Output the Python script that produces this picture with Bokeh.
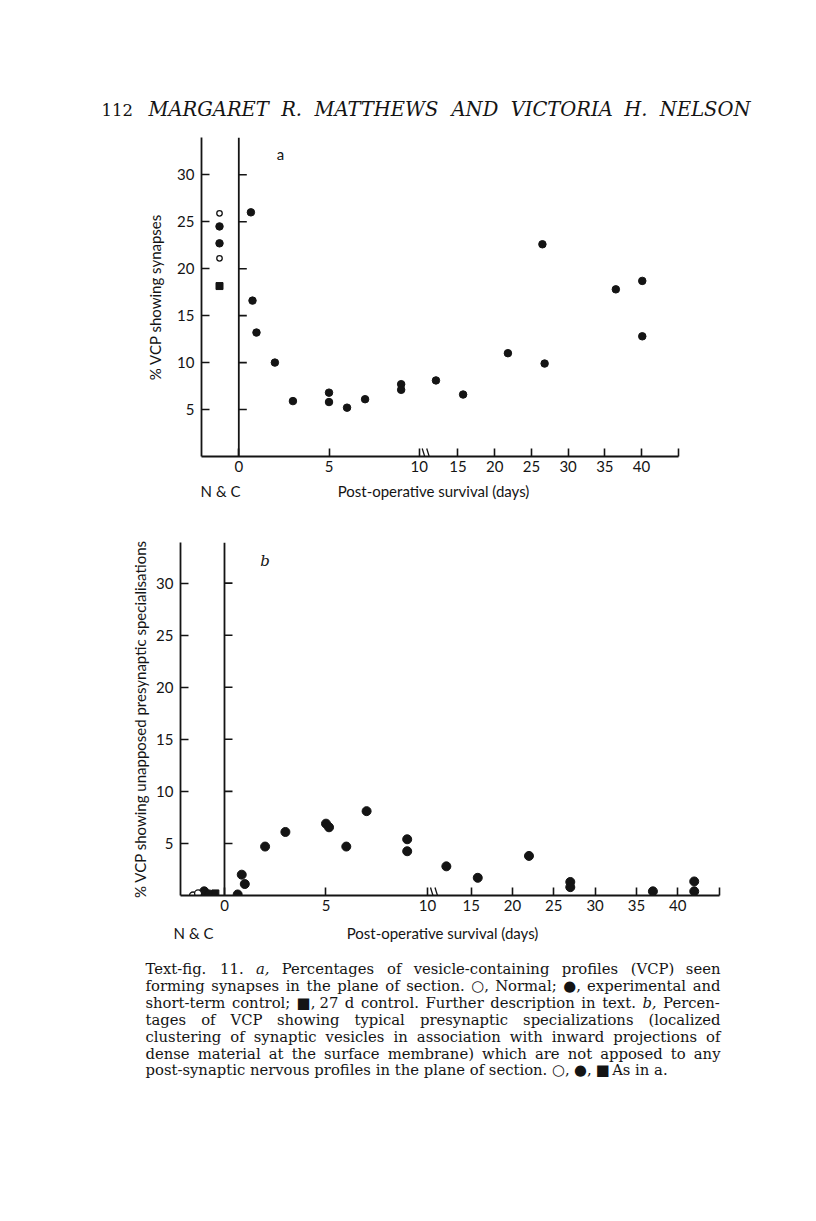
from bokeh.plotting import figure
from bokeh.models import Range1d, FixedTicker, Arrow
from bokeh.layouts import column
from bokeh.embed import file_html
from bokeh.resources import INLINE
from bokeh.core.properties import value

# ---------------- data ----------------
tick_days = [0, 5, 10, 15, 20, 25, 30, 35, 40]
y_ticks = [5, 10, 15, 20, 25, 30]

# panel a : % VCP showing synapses
a_normal_x = [-1.07, -1.07]
a_normal_y = [25.9, 21.1]
a_nc_x = [-1.07, -1.07]
a_nc_y = [24.5, 22.7]
a_ctrl27_x = [-1.07]
a_ctrl27_y = [18.15]
a_days = [0.67, 0.76, 0.98, 2.0, 3.0, 5.0, 5.0, 6.0, 7.0, 9.0, 9.0, 12.0, 15.7, 21.8, 26.5, 26.8, 36.5, 40.1, 40.1]
a_vals = [26.0, 16.6, 13.2, 10.0, 5.9, 6.8, 5.8, 5.2, 6.1, 7.7, 7.1, 8.1, 6.6, 11.0, 22.6, 9.9, 17.8, 18.7, 12.8]

# panel b : % VCP showing unapposed presynaptic specialisations
b_normal_x = [-1.55, -1.30]
b_normal_y = [0.0, 0.2]
b_nc_x = [-1.0, -0.75]
b_nc_y = [0.4, 0.1]
b_ctrl27_x = [-0.45]
b_ctrl27_y = [0.2]
b_days = [0.65, 0.85, 1.0, 2.0, 3.0, 5.0, 5.15, 6.0, 7.0, 9.0, 9.0, 12.0, 15.8, 22.0, 27.0, 27.0, 37.0, 42.0, 42.0]
b_vals = [0.1, 2.0, 1.1, 4.7, 6.1, 6.9, 6.55, 4.7, 8.1, 5.4, 4.25, 2.8, 1.7, 3.8, 1.3, 0.8, 0.4, 1.35, 0.4]

header_num = "112"
header_names = "MARGARET R. MATTHEWS AND VICTORIA H. NELSON"
x_group_label = "N & C"
x_axis_label = "Post-operative survival (days)"
caption_lines = [
    "Text-fig. 11. a, Percentages of vesicle-containing profiles (VCP) seen",
    "forming synapses in the plane of section. \u25cb, Normal; \u25cf, experimental and",
    "short-term control; \u25a0, 27 d control. Further description in text. b, Percen-",
    "tages of VCP showing typical presynaptic specializations (localized",
    "clustering of synaptic vesicles in association with inward projections of",
    "dense material at the surface membrane) which are not apposed to any",
    "post-synaptic nervous profiles in the plane of section. \u25cb, \u25cf, \u25a0 As in a.",
]
caption_italic = {(0, 2), (2, 10), (6, 14)}  # (line, word) set in italic

# broken day axis: linear up to 10 days, compressed beyond
U15 = 12.15
R = 0.407


def to_u(d):
    return d if d <= 10 else U15 + (d - 15) * R


INK = "#141414"
SANS = "Lato"
SERIF = "DejaVu Serif"

# approximate advance widths (em) of DejaVu Serif, used to justify lines
_W = dict(zip("abcdefghijklmnopqrstuvwxyz",
              [.596, .640, .560, .640, .592, .370, .640, .644, .320, .310, .606, .320, .948,
               .644, .602, .640, .640, .478, .513, .402, .644, .565, .856, .564, .565, .523]))
_W.update(dict(zip("ABCDEFGHIJKLMNOPQRSTUVWXYZ",
                   [.722, .735, .720, .802, .730, .694, .799, .872, .395, .401, .747, .664, 1.024,
                    .875, .820, .673, .820, .753, .685, .667, .843, .722, 1.028, .712, .660, .695])))
_W.update({c: .636 for c in "0123456789"})
_W.update({".": .318, ",": .318, ";": .337, ":": .337, "-": .338, "(": .390, ")": .390,
           " ": .318, "\u25cb": .85, "\u25cf": .85, "\u25a0": .77})


def tw(s, fs):
    return fs * sum(_W.get(c, .6) for c in s)


def style(p):
    p.xgrid.visible = False
    p.ygrid.visible = False
    p.outline_line_color = None
    p.background_fill_color = "white"
    p.border_fill_color = "white"
    p.frame_align = False
    return p


def blank(y0, y1):
    """strip whose data coordinates equal page pixel coordinates"""
    p = figure(width=800, height=y1 - y0, x_range=Range1d(0, 800), y_range=Range1d(y1, y0),
               x_axis_type=None, y_axis_type=None, toolbar_location=None,
               output_backend="svg", min_border=0)
    return style(p)


def panel(h, bl, br, bt, bb, xr, yr, ppu_x, ppu_y, ylabel, ylab_stand, tag, tag_xy,
          tag_font, tag_style, normal, ncf, ctrl, days, vals, dot, odot, sq, brk_px):
    p = figure(width=800, height=h, x_range=Range1d(*xr), y_range=Range1d(*yr),
               toolbar_location=None, output_backend="svg",
               min_border_left=bl, min_border_right=br, min_border_top=bt, min_border_bottom=bb)
    style(p)

    xt = [round(float(to_u(d)), 4) for d in tick_days]
    end_t = round(xr[1] - 0.01, 4)
    ax = p.xaxis[0]
    ax.ticker = FixedTicker(ticks=xt + [end_t])
    ov = {t: str(d) for t, d in zip(xt, tick_days)}
    ov[end_t] = ""
    ax.major_label_overrides = ov
    ay = p.yaxis[0]
    ay.ticker = FixedTicker(ticks=y_ticks)
    for a in (ax, ay):
        a.major_tick_in = 8
        a.major_tick_out = 0
        a.minor_tick_in = 0
        a.minor_tick_out = 0
        a.axis_line_width = 1.8
        a.axis_line_color = INK
        a.major_tick_line_width = 1.6
        a.major_tick_line_color = INK
        a.major_label_text_font = SANS
        a.major_label_text_font_size = "15px"
        a.major_label_text_color = INK
    ax.major_label_standoff = 4
    ay.major_label_standoff = 7
    ay.axis_label = ylabel
    ay.axis_label_text_font = SANS
    ay.axis_label_text_font_size = "15px"
    ay.axis_label_text_font_style = "normal"
    ay.axis_label_text_color = INK
    ay.axis_label_standoff = ylab_stand

    # vertical zero-day line with its own inward ticks
    p.segment(x0=[0], y0=[0], x1=[0], y1=[yr[1]], line_width=1.8, line_color=INK)
    tl = 8.0 / ppu_x
    p.segment(x0=[0] * len(y_ticks), y0=y_ticks, x1=[tl] * len(y_ticks), y1=y_ticks,
              line_width=1.6, line_color=INK)

    # axis break marks
    for off in (0.0, 4.5):
        x0 = 10 + (brk_px[0] + off) / ppu_x
        x1 = 10 + (brk_px[1] + off) / ppu_x
        p.add_layout(Arrow(end=None, x_start=x0, y_start=8.0 / ppu_y, x_end=x1, y_end=-8.0 / ppu_y,
                           line_width=1.3, line_color=INK))

    # data
    p.scatter(x=[to_u(d) for d in days], y=vals, size=dot, marker="circle",
              fill_color=INK, line_color=INK)
    p.scatter(x=ncf[0], y=ncf[1], size=dot, marker="circle", fill_color=INK, line_color=INK)
    p.scatter(x=normal[0], y=normal[1], size=odot, marker="circle", fill_color="white",
              line_color=INK, line_width=1.3)
    p.scatter(x=ctrl[0], y=ctrl[1], size=sq, marker="square", fill_color=INK, line_color=INK)

    p.text(x=[tag_xy[0]], y=[tag_xy[1]], text=[tag], text_font=value(tag_font),
           text_font_style=tag_style, text_font_size="15px", text_color=INK,
           text_align="center", text_baseline="middle")
    return p


def label_strip(y0, y1, nc_x, lab_x, ty):
    s = blank(y0, y1)
    s.text(x=[nc_x, lab_x], y=[ty, ty], text=[x_group_label, x_axis_label],
           text_font=value(SANS), text_font_size="15px", text_color=INK,
           text_align="center", text_baseline="middle")
    return s


def justified(words, x0, x1, fs, stretch=True):
    widths = [tw(w, fs) for w in words]
    if stretch and len(words) > 1:
        gap = (x1 - x0 - sum(widths)) / (len(words) - 1)
    else:
        gap = tw(" ", fs)
    xs, x = [], x0
    for w in widths:
        xs.append(x)
        x += w + gap
    return xs


# header  (page y 0..128)
ph = blank(0, 128)
ph.text(x=[101], y=[109], text=[header_num], text_font=value(SERIF),
        text_font_size="16.5px", text_color=INK, text_align="left", text_baseline="alphabetic")
hw = header_names.split(" ")
hx = justified(hw, 148, 750, 19.5)
ph.text(x=hx, y=[109] * len(hw), text=hw, text_font=value(SERIF),
        text_font_style="italic", text_font_size="19.5px", text_color=INK,
        text_align="left", text_baseline="alphabetic")

# panel a  (page y 128..480): frame x 201..678, y 137..456
pa = panel(352, 201, 122, 9, 24, (-2.068, 24.374), (0, 33.97), 18.04, 9.39,
           "% VCP showing synapses", 10, "a", (2.31, 32.2), SANS, "normal",
           (a_normal_x, a_normal_y), (a_nc_x, a_nc_y), (a_ctrl27_x, a_ctrl27_y),
           a_days, a_vals, 7.5, 5.5, 7, (3.0, 8.0))
sa = label_strip(480, 512, 220, 433, 490)

# panel b  (page y 512..920): frame x 180..719, y 542..895
pb = panel(408, 180, 81, 30, 25, (-2.167, 24.384), (0, 33.9), 20.3, 10.42,
           "% VCP showing unapposed presynaptic specialisations", 4, "b", (2.0, 32.1),
           SERIF, "italic",
           (b_normal_x, b_normal_y), (b_nc_x, b_nc_y), (b_ctrl27_x, b_ctrl27_y),
           b_days, b_vals, 9, 7, 7, (3.0, 8.0))
sb = label_strip(920, 945, 193, 442, 932)

# caption (page y 945..1213), justified word by word
pc = blank(945, 1213)
CFS = 14.8
up_x, up_y, up_t, it_x, it_y, it_t = [], [], [], [], [], []
for i, line in enumerate(caption_lines):
    words = line.split(" ")
    xs = justified(words, 145, 720, CFS, stretch=(i < len(caption_lines) - 1))
    yy = 968 + 16.9 * i
    for j, (w, x) in enumerate(zip(words, xs)):
        if (i, j) in caption_italic:
            it_x.append(x); it_y.append(yy); it_t.append(w)
        else:
            up_x.append(x); up_y.append(yy); up_t.append(w)
pc.text(x=up_x, y=up_y, text=up_t, text_font=value(SERIF), text_font_size=f"{CFS}px",
        text_color=INK, text_align="left", text_baseline="middle")
pc.text(x=it_x, y=it_y, text=it_t, text_font=value(SERIF), text_font_style="italic",
        text_font_size=f"{CFS}px", text_color=INK, text_align="left", text_baseline="middle")

layout = column(ph, pa, sa, pb, sb, pc)
open("out.html", "w").write(file_html(layout, INLINE))
